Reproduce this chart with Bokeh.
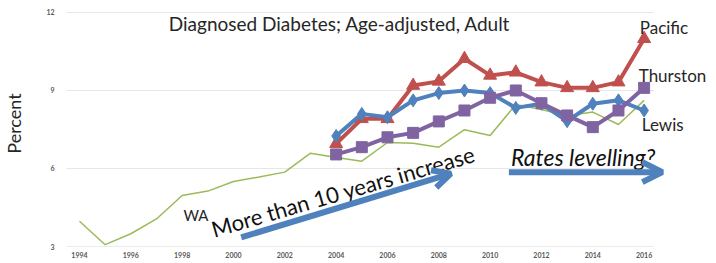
from bokeh.plotting import figure
from bokeh.models import Range1d, FixedTicker, Label, Arrow, OpenHead
from bokeh.embed import file_html
from bokeh.resources import INLINE

# ---- data ----
years = list(range(1994, 2017))
wa = [3.97, 3.07, 3.49, 4.06, 4.96, 5.13, 5.5, 5.67, 5.86, 6.59, 6.42, 6.28,
      7.0, 6.97, 6.82, 7.49, 7.27, 8.46, 8.27, 8.03, 8.17, 7.69, 8.62]
county_years = list(range(2004, 2017))
pacific = [6.95, 7.91, 7.91, 9.19, 9.35, 10.22, 9.58, 9.70, 9.32, 9.10, 9.10, 9.32, 10.99]
lewis = [7.25, 8.10, 7.97, 8.62, 8.90, 9.00, 8.90, 8.33, 8.49, 7.82, 8.49, 8.62, 8.23]
thurston = [6.54, 6.82, 7.20, 7.37, 7.81, 8.23, 8.72, 9.00, 8.51, 8.04, 7.59, 8.23, 9.10]
x_ticks = list(range(1994, 2017, 2))
y_ticks = [3, 6, 9, 12]

RED = "#C0504D"
BLUE = "#4F81BD"
PURPLE = "#8064A2"
GREEN = "#9BBB59"
FONT = "Lato"

X_START, GRID_END, X_END = 1993.494, 2016.39, 2018.82

p = figure(width=716, height=263, output_backend="svg", toolbar_location=None,
           x_range=Range1d(X_START, X_END), y_range=Range1d(3, 12.46),
           min_border_left=65, min_border_right=0, min_border_top=0,
           min_border_bottom=17)
p.outline_line_color = None
p.background_fill_color = "white"
p.border_fill_color = "white"

# axes
p.xaxis.ticker = FixedTicker(ticks=x_ticks)
p.yaxis.ticker = FixedTicker(ticks=y_ticks)
p.xgrid.grid_line_color = None
p.ygrid.grid_line_color = None

for ax in (p.xaxis[0], p.yaxis[0]):
    ax.axis_line_color = None
    ax.major_tick_line_color = None
    ax.minor_tick_line_color = None
    ax.major_tick_out = 0
    ax.major_tick_in = 0
    ax.minor_tick_out = 0
    ax.minor_tick_in = 0
    ax.major_label_text_font = FONT
    ax.major_label_text_font_style = "bold"
    ax.major_label_text_font_size = "7px"
    ax.major_label_text_color = "#595959"

p.xaxis.major_label_standoff = 5
p.yaxis.major_label_standoff = 12
p.yaxis.axis_label = "Percent"
p.yaxis.axis_label_text_font = FONT
p.yaxis.axis_label_text_font_style = "normal"
p.yaxis.axis_label_text_font_size = "18px"
p.yaxis.axis_label_text_color = "#262626"
p.yaxis.axis_label_standoff = 18

# gridlines (ending where the reference's do) and base line
p.segment(x0=[X_START] * len(y_ticks), x1=[GRID_END] * len(y_ticks), y0=y_ticks, y1=y_ticks,
          line_color=["#d9d9d9", "#e6e6e6", "#e6e6e6", "#e6e6e6"], line_width=1)

# series
p.line(years, wa, line_color=GREEN, line_width=1.5)
p.line(county_years, pacific, line_color=RED, line_width=4)
p.scatter(county_years, pacific, marker="triangle", size=13, fill_color=RED, line_color=RED)
p.line(county_years, lewis, line_color=BLUE, line_width=4)
p.scatter(county_years, lewis, marker="diamond", size=13, fill_color=BLUE, line_color=BLUE)
p.line(county_years, thurston, line_color=PURPLE, line_width=4)
p.scatter(county_years, thurston, marker="square", size=11, fill_color=PURPLE, line_color=PURPLE)

# annotations
p.add_layout(Label(x=2004.14, y=11.565, text="Diagnosed Diabetes; Age-adjusted, Adult",
                   text_align="center", text_baseline="alphabetic", text_font=FONT,
                   text_font_size="19px", text_color="#262626"))
for txt, xx, yy in [("Pacific", 2015.83, 11.42), ("Thurston", 2015.79, 9.58),
                    ("Lewis", 2015.91, 7.69)]:
    p.add_layout(Label(x=xx, y=yy, text=txt, text_align="left", text_baseline="middle",
                       text_font=FONT, text_font_size="17px", text_color="#262626"))
p.add_layout(Label(x=1998.05, y=4.23, text="WA", text_align="left", text_baseline="middle",
                   text_font=FONT, text_font_size="15px", text_color="#262626"))
p.add_layout(Label(x=2004.27, y=5.12, text="More than 10 years increase", angle=0.283,
                   text_align="center", text_baseline="alphabetic", text_font=FONT,
                   text_font_size="22px", text_color="#111111"))
p.add_layout(Label(x=2010.81, y=6.46, text="Rates levelling?", text_align="left",
                   text_baseline="alphabetic", text_font=FONT, text_font_style="italic",
                   text_font_size="23px", text_color="#111111"))

p.add_layout(Arrow(x_start=2000.30, y_start=3.35, x_end=2008.47, y_end=5.80,
                   line_color=BLUE, line_width=6,
                   end=OpenHead(size=18, line_color=BLUE, line_width=6)))
p.add_layout(Arrow(x_start=2010.73, y_start=5.86, x_end=2016.71, y_end=5.86,
                   line_color=BLUE, line_width=6,
                   end=OpenHead(size=20, line_color=BLUE, line_width=6)))

open("out.html", "w").write(file_html(p, INLINE))
